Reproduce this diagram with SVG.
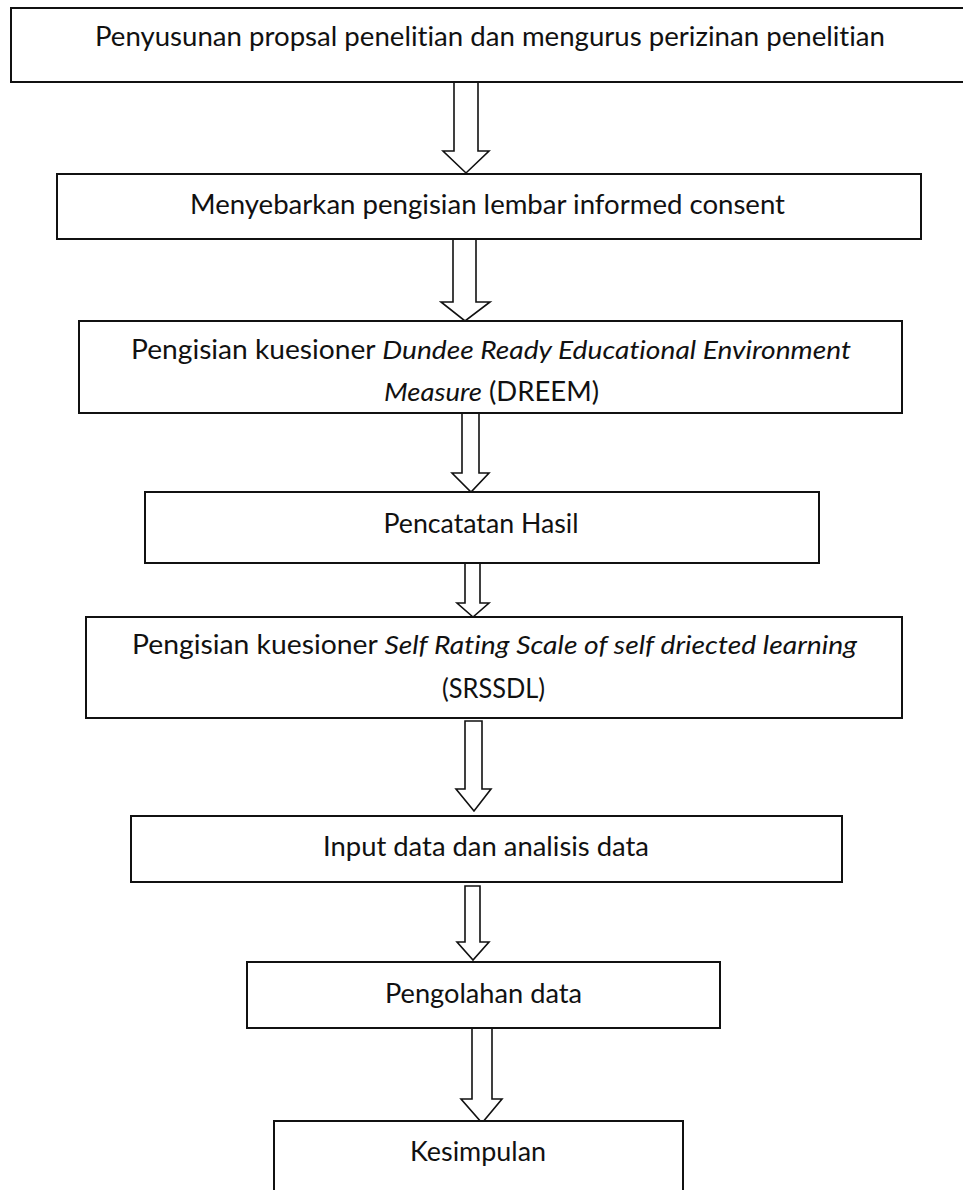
<svg xmlns="http://www.w3.org/2000/svg" width="963" height="1190" viewBox="0 0 963 1190">
<style>
.box{fill:#fff;stroke:#111;stroke-width:2}
.arr{fill:#fff;stroke:#111;stroke-width:1.6;stroke-linejoin:miter}
text{font-family:Lato,"Open Sans","Liberation Sans",sans-serif;font-size:26px;fill:#111;text-anchor:middle;font-variant-ligatures:none;font-feature-settings:"liga" 0,"dlig" 0}
.i{font-style:italic}
</style>
<rect width="963" height="1190" fill="#fff"/>
<g id="connectors">
<polygon class="arr" points="454,82 478,82 478,151 489,151 466,173 443,151 454,151"/>
<polygon class="arr" points="453,239 476,239 476,302 490,302 465,321 441,302 453,302"/>
<polygon class="arr" points="462,413 479,413 479,473 489,473 471,492 452,473 462,473"/>
<polygon class="arr" points="465,563 480,563 480,603 489,603 473,617 457,603 465,603"/>
<polygon class="arr" points="465,721 482,721 482,789 491,789 474,811 456,789 465,789"/>
<polygon class="arr" points="465,886 480,886 480,942 489,942 473,960 457,942 465,942"/>
<polygon class="arr" points="472,1026 492,1026 492,1099 502,1099 482,1123 461,1099 472,1099"/>
</g>
<g id="n1"><rect class="box" x="11" y="8" width="960" height="74"/>
<text x="490" y="46" textLength="790" lengthAdjust="spacingAndGlyphs">Penyusunan propsal penelitian dan mengurus perizinan penelitian</text></g>
<g id="n2"><rect class="box" x="57" y="174" width="864" height="65"/>
<text x="487.5" y="214" textLength="595" lengthAdjust="spacingAndGlyphs">Menyebarkan pengisian lembar informed consent</text></g>
<g id="n3"><rect class="box" x="79" y="321" width="823" height="92"/>
<text x="491" y="359" textLength="720" lengthAdjust="spacingAndGlyphs">Pengisian kuesioner <tspan class="i">Dundee Ready Educational Environment</tspan></text>
<text x="491.5" y="401" textLength="215" lengthAdjust="spacingAndGlyphs"><tspan class="i">Measure</tspan> (DREEM)</text></g>
<g id="n4"><rect class="box" x="145" y="492" width="674" height="71"/>
<text x="481" y="533" textLength="195" lengthAdjust="spacingAndGlyphs">Pencatatan Hasil</text></g>
<g id="n5"><rect class="box" x="86" y="617" width="816" height="101"/>
<text x="494.5" y="654" textLength="725" lengthAdjust="spacingAndGlyphs">Pengisian kuesioner <tspan class="i">Self Rating Scale of self driected learning</tspan></text>
<text x="493.5" y="698" textLength="103" lengthAdjust="spacingAndGlyphs">(SRSSDL)</text></g>
<g id="n6"><rect class="box" x="131" y="816" width="711" height="66"/>
<text x="486" y="856" textLength="326" lengthAdjust="spacingAndGlyphs">Input data dan analisis data</text></g>
<g id="n7"><rect class="box" x="247" y="962" width="473" height="66"/>
<text x="483.5" y="1003" textLength="197" lengthAdjust="spacingAndGlyphs">Pengolahan data</text></g>
<g id="n8"><rect class="box" x="274" y="1121" width="409" height="80"/>
<text x="478" y="1161" textLength="136" lengthAdjust="spacingAndGlyphs">Kesimpulan</text></g>
</svg>
